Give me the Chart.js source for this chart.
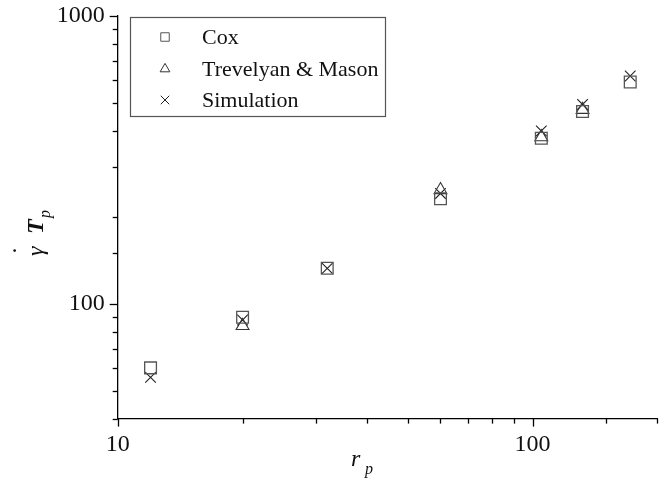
<!DOCTYPE html>
<html>
<head>
<meta charset="utf-8">
<script src="https://cdn.jsdelivr.net/npm/chart.js@4/dist/chart.umd.min.js"></script>
<style>
  html, body { margin: 0; padding: 0; background: #fff; }
  #wrap { width: 667px; height: 481px; }
</style>
</head>
<body>
<div id="wrap"><canvas id="c" width="667" height="481"></canvas></div>
<script>
// ---- data ----
const rp = [12, 20, 32, 60, 105, 132, 172];
const cox = [60, 90, 133, 232, 376, 466, 590];
const trevelyanMason = [null, 84, null, 249, 380, 473, null];
const simulation = [55.6, 88, 133, 242, 399, 493, 619];
const seriesNames = ['Cox', 'Trevelyan & Mason', 'Simulation'];
const xMajorLabels = [10, 100];
const yMajorLabels = [100, 1000];

const FONT = "'Liberation Serif', 'Times New Roman', serif";

function pts(ys) {
  return rp.map((x, i) => ({ x: x, y: ys[i] }));
}

const styles = [
  { pointStyle: 'rect', radius: 8.3, color: '#555', width: 1.3, legendRadius: 6.0 },
  { pointStyle: 'triangle', radius: 7.4, color: '#333', width: 1.1, legendRadius: 5.6 },
  { pointStyle: 'crossRot', radius: 7.5, color: '#222', width: 1.1, legendRadius: 6.0 }
];

const seriesData = [cox, trevelyanMason, simulation];

const datasets = seriesData.map((d, i) => ({
  label: seriesNames[i],
  data: pts(d),
  showLine: false,
  pointStyle: styles[i].pointStyle,
  pointRadius: styles[i].radius,
  pointHoverRadius: styles[i].radius,
  pointBorderColor: styles[i].color,
  pointBackgroundColor: 'rgba(0,0,0,0)',
  pointBorderWidth: styles[i].width
}));

function isMajor(v) {
  const l = Math.log10(v);
  return Math.abs(l - Math.round(l)) < 1e-9;
}

function noPad(s) {
  s.paddingTop = 0; s.paddingBottom = 0; s.paddingLeft = 0; s.paddingRight = 0;
}

const decorPlugin = {
  id: 'decor',
  afterDraw(chart) {
    const ctx = chart.ctx;
    const ca = chart.chartArea;
    const xs = chart.scales.x, ys = chart.scales.y;
    ctx.save();
    ctx.strokeStyle = '#000';
    ctx.lineWidth = 1.3;
    // x ticks (outward / downward)
    xs.ticks.forEach(t => {
      const px = Math.round(xs.getPixelForValue(t.value)) + 0.5;
      const len = isMajor(t.value) ? 8 : 5;
      ctx.beginPath();
      ctx.moveTo(px, ca.bottom);
      ctx.lineTo(px, ca.bottom + len);
      ctx.stroke();
    });
    // y ticks (outward / left)
    ys.ticks.forEach(t => {
      const py = Math.round(ys.getPixelForValue(t.value)) + 0.5;
      const len = isMajor(t.value) ? 8 : 5;
      ctx.beginPath();
      ctx.moveTo(ca.left, py);
      ctx.lineTo(ca.left - len, py);
      ctx.stroke();
    });

    // legend box
    const lx = 130.5, ly = 17.5, lw = 255, lh = 99;
    ctx.strokeStyle = '#555';
    ctx.lineWidth = 1.2;
    ctx.fillStyle = '#fff';
    ctx.fillRect(lx, ly, lw, lh);
    ctx.strokeRect(lx, ly, lw, lh);
    const rows = [37, 69, 100];
    ctx.font = '22px ' + FONT;
    ctx.textBaseline = 'middle';
    ctx.textAlign = 'left';
    rows.forEach((ry, i) => {
      ctx.strokeStyle = styles[i].color;
      ctx.fillStyle = 'rgba(0,0,0,0)';
      ctx.lineWidth = 1;
      Chart.helpers.drawPoint(ctx, {
        pointStyle: styles[i].pointStyle,
        radius: styles[i].legendRadius,
        rotation: 0,
        borderWidth: 1
      }, 165, ry);
      ctx.fillStyle = '#111';
      ctx.fillText(seriesNames[i], 202, ry + 1);
    });

    // x title: r_p
    ctx.fillStyle = '#111';
    ctx.textBaseline = 'alphabetic';
    ctx.textAlign = 'left';
    ctx.font = 'italic 24px ' + FONT;
    ctx.fillText('r', 351, 466);
    ctx.font = 'italic 16px ' + FONT;
    ctx.fillText('p', 365, 474);

    // y title: gamma-dot T_p (rotated)
    ctx.save();
    ctx.translate(43, 258);
    ctx.rotate(-Math.PI / 2);
    ctx.font = 'italic 24px ' + FONT;
    ctx.fillText('\u03b3', 2, 0);
    ctx.fillText('.', 5, -27);
    ctx.font = 'bold italic 24px ' + FONT;
    ctx.fillText('T', 24, 0);
    ctx.font = 'italic 16px ' + FONT;
    ctx.fillText('p', 40, 7);
    ctx.restore();

    ctx.restore();
  }
};

new Chart(document.getElementById('c'), {
  type: 'scatter',
  data: { datasets: datasets },
  options: {
    responsive: false,
    animation: false,
    devicePixelRatio: 1,
    layout: { padding: { left: 0, right: 7.7, top: 16, bottom: 0 } },
    plugins: {
      legend: { display: false },
      tooltip: { enabled: false },
      title: { display: false }
    },
    scales: {
      x: {
        type: 'logarithmic',
        position: 'bottom',
        min: 10,
        max: 200,
        grid: { display: false, drawTicks: false },
        border: { display: true, color: '#000', width: 1.3 },
        ticks: {
          autoSkip: false,
          maxRotation: 0,
          padding: 12,
          color: '#111',
          font: { family: FONT, size: 24 },
          callback: function (v) { return xMajorLabels.includes(v) ? String(v) : ''; }
        },
        afterFit: function (s) { s.height = 62.4; noPad(s); }
      },
      y: {
        type: 'logarithmic',
        position: 'left',
        min: 40,
        max: 1000,
        grid: { display: false, drawTicks: false },
        border: { display: true, color: '#000', width: 1.3 },
        ticks: {
          autoSkip: false,
          padding: 13,
          color: '#111',
          font: { family: FONT, size: 24 },
          callback: function (v) { return yMajorLabels.includes(v) ? String(v) : ''; }
        },
        afterFit: function (s) { s.width = 117.7; noPad(s); }
      }
    }
  },
  plugins: [decorPlugin]
});
</script>
</body>
</html>
